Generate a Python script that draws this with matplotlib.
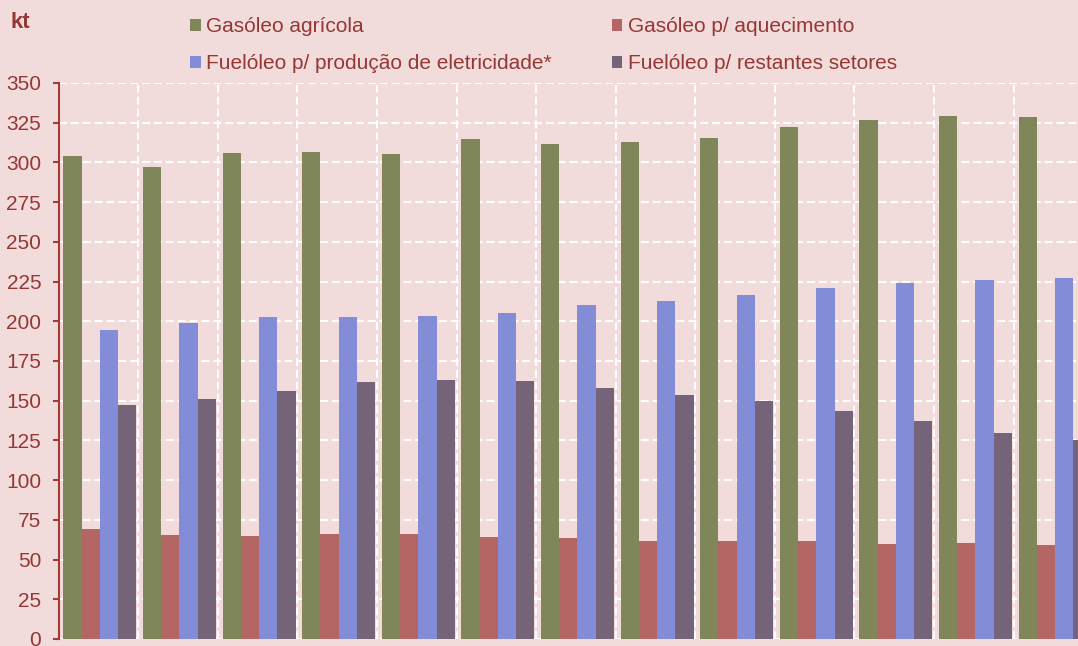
import matplotlib
matplotlib.use("Agg")
import matplotlib.pyplot as plt
import numpy as np
from matplotlib.ticker import FixedLocator

series_names = ["Gasóleo agrícola", "Gasóleo p/ aquecimento",
                "Fuelóleo p/ produção de eletricidade*", "Fuelóleo p/ restantes setores"]
gasoleo_agricola = [304, 297, 306, 306.5, 305, 314.5, 311.5, 313, 315.5, 322, 326.5, 329, 328.5]
gasoleo_aquecimento = [69, 65.5, 65, 66, 66, 64.5, 63.5, 62, 61.5, 62, 60, 60.5, 59]
fuel_eletricidade = [194.5, 199, 203, 203, 203.5, 205.5, 210.5, 213, 216.5, 221, 224, 226, 227]
fuel_restantes = [147, 151, 156, 162, 163, 162.5, 158, 153.5, 150, 143.5, 137.5, 129.5, 125.5]
yticks = list(range(0, 351, 25))

colors = ["#7f8659", "#b36664", "#838cd7", "#75637a"]
bg = "#f2dcdb"
txt = "#953735"

plt.rcParams['font.family'] = ['Liberation Sans', 'DejaVu Sans']

fig = plt.figure(figsize=(10.78, 6.46), dpi=100, facecolor=bg)
ax = fig.add_axes([58.5/1078, 7/646, 1019.5/1078, 556/646])
ax.set_facecolor(bg)

data = [gasoleo_agricola, gasoleo_aquecimento, fuel_eletricidade, fuel_restantes]
n = len(gasoleo_agricola)
x = np.arange(n)
w = 0.229
handles = []
for i, (vals, c, name) in enumerate(zip(data, colors, series_names)):
    b = ax.bar(x + (i - 1.5) * w + 0.02, vals, width=w, color=c, label=name,
               zorder=2, linewidth=0)
    handles.append(b)

ax.set_xlim(-0.5, -0.5 + 1019.5/79.6)
ax.set_ylim(0, 350)
ax.yaxis.set_major_locator(FixedLocator(yticks))
ax.xaxis.set_major_locator(FixedLocator(np.arange(n) + 0.5))
ax.grid(True, color="white", linestyle=(0, (3.8, 1.9)), linewidth=1.5, zorder=0)
ax.set_axisbelow(True)

for s in ["top", "right", "bottom"]:
    ax.spines[s].set_visible(False)
ax.spines["left"].set_color("#a33b3b")
ax.spines["left"].set_linewidth(1.5)
ax.tick_params(axis="y", colors="#a33b3b", labelcolor=txt, labelsize=15,
               length=4.5, width=1.5, pad=8)
ax.tick_params(axis="x", length=0, labelbottom=False)

fig.text(11/1078, 1 - 22/646, "kt", fontsize=16, fontweight="bold", color=txt,
         va="center", ha="left")

order = [0, 2, 1, 3]
leg = fig.legend([handles[i] for i in order], [series_names[i] for i in order],
                 ncol=2, loc="upper left", bbox_to_anchor=(182/1078, 1 - 9/646),
                 frameon=False, fontsize=15, handlelength=0.5, handleheight=0.5,
                 handletextpad=0.25, columnspacing=2.9, labelspacing=0.86,
                 borderaxespad=0)
for t in leg.get_texts():
    t.set_color(txt)

fig.savefig("out.png", dpi=100, facecolor=bg)
